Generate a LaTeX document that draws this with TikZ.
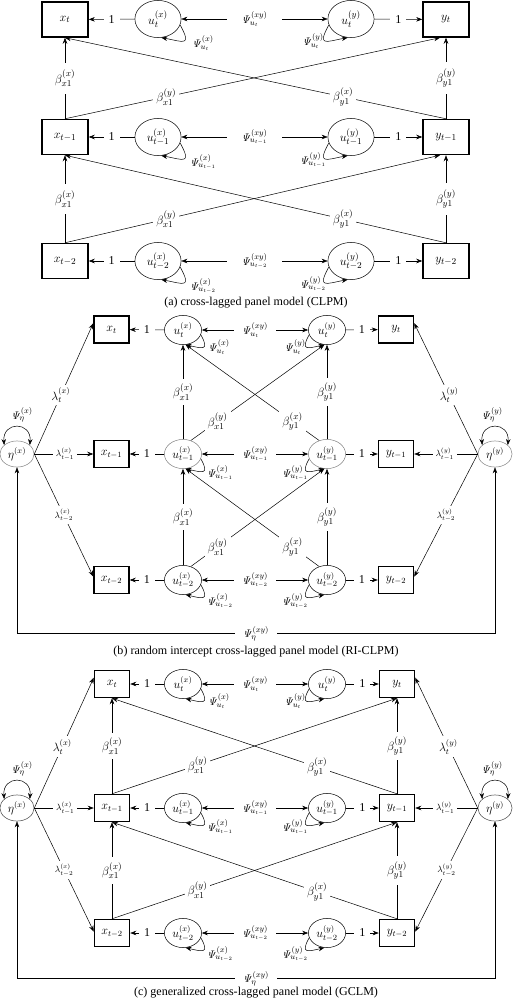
\documentclass[tikz,border=0pt]{standalone}
\usepackage[no-math]{fontspec}
\setmainfont{Liberation Serif}
\usetikzlibrary{shapes.geometric, arrows.meta, positioning, calc}
\newcommand{\Ps}{\mathit{\Psi}}

\begin{document}
\begin{tikzpicture}[x=0.035cm, y=-0.035cm, font=\fontsize{11}{13}\selectfont,
  >={Stealth[length=6pt,width=4.5pt]}, line width=0.5pt,
  boxa/.style={draw, line width=1.3pt, minimum width=46pt, minimum height=35pt, inner sep=0pt, font=\fontsize{13}{15}\selectfont},
  boxb/.style={draw, line width=1.3pt, minimum width=35pt, minimum height=27pt, inner sep=0pt, font=\fontsize{12}{14}\selectfont},
  ella/.style={draw, ellipse, minimum width=46pt, minimum height=37pt, inner sep=0pt, font=\fontsize{13}{15}\selectfont},
  ellb/.style={draw, ellipse, minimum width=37pt, minimum height=29pt, inner sep=0pt, font=\fontsize{12}{14}\selectfont},
  etan/.style={draw=gray, ellipse, minimum width=34pt, minimum height=26pt, inner sep=0pt, font=\fontsize{12}{14}\selectfont},
  lbl/.style={fill=white, inner sep=3pt},
  beta/.style={fill=white, inner sep=3pt, font=\fontsize{13}{15}\selectfont},
  lamt/.style={fill=white, inner sep=3pt, font=\fontsize{12}{14}\selectfont},
  lams/.style={fill=white, inner sep=3pt, font=\fontsize{9}{11}\selectfont},
  one/.style={fill=white, inner xsep=5pt, inner ysep=1pt, font=\fontsize{12}{14}\selectfont},
  capt/.style={font=\fontsize{12}{14}\selectfont}
]
  \useasboundingbox (0,0) rectangle (513,1000);

  % (a) CLPM
  \node[boxa] (axt) at (65,19.5) {$x_t$};
  \node[boxa] (axt1) at (65,137) {$x_{t-1}$};
  \node[boxa] (axt2) at (65,261) {$x_{t-2}$};
  \node[boxa] (ayt) at (446,19.5) {$y_t$};
  \node[boxa] (ayt1) at (446,137) {$y_{t-1}$};
  \node[boxa] (ayt2) at (446,261) {$y_{t-2}$};
  \node[ella] (aux) at (158,19) {$u^{(x)}_t$};
  \node[ella] (aux1) at (158,137) {$u^{(x)}_{t-1}$};
  \node[ella] (aux2) at (158,261) {$u^{(x)}_{t-2}$};
  \node[ella] (auy) at (351,19) {$u^{(y)}_t$};
  \node[ella] (auy1) at (351,137) {$u^{(y)}_{t-1}$};
  \node[ella] (auy2) at (351,261) {$u^{(y)}_{t-2}$};

  \draw[->] (aux) -- node[one]{1} (axt);
  \draw[->] (aux1) -- node[one]{1} (axt1);
  \draw[->] (aux2) -- node[one]{1} (axt2);
  \draw[->] (auy) -- node[one]{1} (ayt);
  \draw[->] (auy1) -- node[one]{1} (ayt1);
  \draw[->] (auy2) -- node[one]{1} (ayt2);
  \draw[<->] (aux) -- node[lbl, inner xsep=14pt]{$\Ps^{(xy)}_{u_t}$} (auy);
  \draw[<->] (aux1) -- node[lbl, inner xsep=14pt]{$\Ps^{(xy)}_{u_{t-1}}$} (auy1);
  \draw[<->] (aux2) -- node[lbl, inner xsep=14pt]{$\Ps^{(xy)}_{u_{t-2}}$} (auy2);

  \draw[->] (aux.-15) .. controls +(12,22) and +(22,4) .. (aux.-80);
  \draw[->] (aux1.-15) .. controls +(12,22) and +(22,4) .. (aux1.-80);
  \draw[->] (aux2.-15) .. controls +(12,22) and +(22,4) .. (aux2.-80);
  \draw[->] (auy.195) .. controls +(-12,22) and +(-22,4) .. (auy.-100);
  \draw[->] (auy1.195) .. controls +(-12,22) and +(-22,4) .. (auy1.-100);
  \draw[->] (auy2.195) .. controls +(-12,22) and +(-22,4) .. (auy2.-100);
  \node (apx) at ($(aux)+(45,24)$) {$\Ps^{(x)}_{u_t}$};
  \node (apx1) at ($(aux1)+(45,25)$) {$\Ps^{(x)}_{u_{t-1}}$};
  \node (apx2) at ($(aux2)+(45,25)$) {$\Ps^{(x)}_{u_{t-2}}$};
  \node (apy) at ($(auy)+(-38,22)$) {$\Ps^{(y)}_{u_t}$};
  \node (apy1) at ($(auy1)+(-38,23)$) {$\Ps^{(y)}_{u_{t-1}}$};
  \node (apy2) at ($(auy2)+(-38,23)$) {$\Ps^{(y)}_{u_{t-2}}$};

  \draw[->] (axt1) -- node[beta, inner ysep=7pt]{$\beta^{(x)}_{x1}$} (axt);
  \draw[->] (axt2) -- node[beta, inner ysep=7pt]{$\beta^{(x)}_{x1}$} (axt1);
  \draw[->] (ayt1) -- node[beta, inner ysep=7pt]{$\beta^{(y)}_{y1}$} (ayt);
  \draw[->] (ayt2) -- node[beta, inner ysep=7pt]{$\beta^{(y)}_{y1}$} (ayt1);
  \draw[->] (axt1.north) -- node[beta, pos=0.27]{$\beta^{(y)}_{x1}$} ($(ayt.south)+(-6,0)$);
  \draw[->] (axt2.north) -- node[beta, pos=0.27]{$\beta^{(y)}_{x1}$} ($(ayt1.south)+(-6,0)$);
  \draw[->] (ayt1.north) -- node[beta, pos=0.27]{$\beta^{(x)}_{y1}$} (axt.south);
  \draw[->] (ayt2.north) -- node[beta, pos=0.27]{$\beta^{(x)}_{y1}$} (axt1.south);

  \node[capt] (capa) at (256,303) {(a) cross-lagged panel model (CLPM)};

  % (b) RI-CLPM
  \node[boxb] (bxt) at (111.5,329.5) {$x_t$};
  \node[boxb] (bxt1) at (111.5,454) {$x_{t-1}$};
  \node[boxb] (bxt2) at (111.5,580) {$x_{t-2}$};
  \node[boxb] (byt) at (396,329.5) {$y_t$};
  \node[boxb] (byt1) at (396,454) {$y_{t-1}$};
  \node[boxb] (byt2) at (396,580) {$y_{t-2}$};
  \node[ellb] (bux) at (183,330) {$u^{(x)}_t$};
  \node[ellb, draw=gray] (bux1) at (183,454) {$u^{(x)}_{t-1}$};
  \node[ellb] (bux2) at (183,580) {$u^{(x)}_{t-2}$};
  \node[ellb] (buy) at (327,330) {$u^{(y)}_t$};
  \node[ellb, draw=gray] (buy1) at (327,454) {$u^{(y)}_{t-1}$};
  \node[ellb] (buy2) at (327,580) {$u^{(y)}_{t-2}$};
  \node[etan] (bex) at (17,454) {$\eta^{(x)}$};
  \node[etan] (bey) at (495,454) {$\eta^{(y)}$};

  \draw[->] (bux) -- node[one]{1} (bxt);
  \draw[->] (bux1) -- node[one]{1} (bxt1);
  \draw[->] (bux2) -- node[one]{1} (bxt2);
  \draw[->] (buy) -- node[one]{1} (byt);
  \draw[->] (buy1) -- node[one]{1} (byt1);
  \draw[->] (buy2) -- node[one]{1} (byt2);
  \draw[<->] (bux) -- node[lbl, inner xsep=8pt]{$\Ps^{(xy)}_{u_t}$} (buy);
  \draw[<->] (bux1) -- node[lbl, inner xsep=8pt]{$\Ps^{(xy)}_{u_{t-1}}$} (buy1);
  \draw[<->] (bux2) -- node[lbl, inner xsep=8pt]{$\Ps^{(xy)}_{u_{t-2}}$} (buy2);

  \draw[->] (bux.-15) .. controls +(9,16) and +(17,4) .. (bux.-80);
  \draw[->] (bux1.-15) .. controls +(9,16) and +(17,4) .. (bux1.-80);
  \draw[->] (bux2.-15) .. controls +(9,16) and +(17,4) .. (bux2.-80);
  \draw[->] (buy.195) .. controls +(-9,16) and +(-17,4) .. (buy.-100);
  \draw[->] (buy1.195) .. controls +(-9,16) and +(-17,4) .. (buy1.-100);
  \draw[->] (buy2.195) .. controls +(-9,16) and +(-17,4) .. (buy2.-100);
  \node (bpx) at ($(bux)+(36,17)$) {$\Ps^{(x)}_{u_t}$};
  \node (bpx1) at ($(bux1)+(37,19)$) {$\Ps^{(x)}_{u_{t-1}}$};
  \node (bpx2) at ($(bux2)+(37,21)$) {$\Ps^{(x)}_{u_{t-2}}$};
  \node (bpy) at ($(buy)+(-32,17)$) {$\Ps^{(y)}_{u_t}$};
  \node (bpy1) at ($(buy1)+(-32,19)$) {$\Ps^{(y)}_{u_{t-1}}$};
  \node (bpy2) at ($(buy2)+(-32,21)$) {$\Ps^{(y)}_{u_{t-2}}$};

  \draw[->] (bux1) -- node[beta, inner ysep=5pt]{$\beta^{(x)}_{x1}$} (bux);
  \draw[->] (bux2) -- node[beta, inner ysep=5pt]{$\beta^{(x)}_{x1}$} (bux1);
  \draw[->] (buy1) -- node[beta, inner ysep=5pt]{$\beta^{(y)}_{y1}$} (buy);
  \draw[->] (buy2) -- node[beta, inner ysep=5pt]{$\beta^{(y)}_{y1}$} (buy1);
  \draw[->] (bux1.60) -- node[beta, pos=0.2]{$\beta^{(y)}_{x1}$} (buy.-100);
  \draw[->] (bux2.60) -- node[beta, pos=0.2]{$\beta^{(y)}_{x1}$} (buy1.-100);
  \draw[->] (buy1.120) -- node[beta, pos=0.2]{$\beta^{(x)}_{y1}$} (bux.-80);
  \draw[->] (buy2.120) -- node[beta, pos=0.2]{$\beta^{(x)}_{y1}$} (bux1.-80);

  \draw[->] (bex.east) -- node[lamt, pos=0.45]{$\lambda^{(x)}_t$} ([yshift=0.22cm]bxt.west);
  \draw[->] (bex.east) -- node[lams, pos=0.52]{$\lambda^{(x)}_{t-1}$} (bxt1.west);
  \draw[->] (bex.east) -- node[lams, pos=0.5]{$\lambda^{(x)}_{t-2}$} ([yshift=0.12cm]bxt2.west);
  \draw[->] (bey.west) -- node[lamt, pos=0.45]{$\lambda^{(y)}_t$} ([yshift=0.22cm]byt.east);
  \draw[->] (bey.west) -- node[lams, pos=0.52]{$\lambda^{(y)}_{t-1}$} (byt1.east);
  \draw[->] (bey.west) -- node[lams, pos=0.5]{$\lambda^{(y)}_{t-2}$} ([yshift=0.12cm]byt2.east);

  \draw[<->] (bex.145) .. controls +(-2,-24) and +(2,-24) .. (bex.35);
  \draw[<->] (bey.145) .. controls +(-2,-24) and +(2,-24) .. (bey.35);
  \node (bpex) at ($(bex)+(5,-39)$) {$\Ps^{(x)}_{\eta}$};
  \node (bpey) at ($(bey)+(-3,-39)$) {$\Ps^{(y)}_{\eta}$};
  \draw[<->] (bex.south) -- ++(0,166) -| node[lbl, pos=0.25, inner xsep=8pt]{$\Ps^{(xy)}_{\eta}$} (bey.south);

  \node[capt] (capb) at (256,652) {(b) random intercept cross-lagged panel model (RI-CLPM)};

  % (c) GCLM
  \node[boxb] (cxt) at (112,684) {$x_t$};
  \node[boxb] (cxt1) at (112,808) {$x_{t-1}$};
  \node[boxb] (cxt2) at (112,933) {$x_{t-2}$};
  \node[boxb] (cyt) at (397,684) {$y_t$};
  \node[boxb] (cyt1) at (397,808) {$y_{t-1}$};
  \node[boxb] (cyt2) at (397,933) {$y_{t-2}$};
  \node[ellb] (cux) at (183,684) {$u^{(x)}_t$};
  \node[ellb] (cux1) at (183,808) {$u^{(x)}_{t-1}$};
  \node[ellb] (cux2) at (183,933) {$u^{(x)}_{t-2}$};
  \node[ellb] (cuy) at (327,684) {$u^{(y)}_t$};
  \node[ellb] (cuy1) at (327,808) {$u^{(y)}_{t-1}$};
  \node[ellb] (cuy2) at (327,933) {$u^{(y)}_{t-2}$};
  \node[etan, draw=darkgray] (cex) at (17,808) {$\eta^{(x)}$};
  \node[etan, draw=darkgray] (cey) at (495,808) {$\eta^{(y)}$};

  \draw[->] (cux) -- node[one]{1} (cxt);
  \draw[->] (cux1) -- node[one]{1} (cxt1);
  \draw[->] (cux2) -- node[one]{1} (cxt2);
  \draw[->] (cuy) -- node[one]{1} (cyt);
  \draw[->] (cuy1) -- node[one]{1} (cyt1);
  \draw[->] (cuy2) -- node[one]{1} (cyt2);
  \draw[<->] (cux) -- node[lbl, inner xsep=8pt]{$\Ps^{(xy)}_{u_t}$} (cuy);
  \draw[<->] (cux1) -- node[lbl, inner xsep=8pt]{$\Ps^{(xy)}_{u_{t-1}}$} (cuy1);
  \draw[<->] (cux2) -- node[lbl, inner xsep=8pt]{$\Ps^{(xy)}_{u_{t-2}}$} (cuy2);

  \draw[->] (cux.-15) .. controls +(9,16) and +(17,4) .. (cux.-80);
  \draw[->] (cux1.-15) .. controls +(9,16) and +(17,4) .. (cux1.-80);
  \draw[->] (cux2.-15) .. controls +(9,16) and +(17,4) .. (cux2.-80);
  \draw[->] (cuy.195) .. controls +(-9,16) and +(-17,4) .. (cuy.-100);
  \draw[->] (cuy1.195) .. controls +(-9,16) and +(-17,4) .. (cuy1.-100);
  \draw[->] (cuy2.195) .. controls +(-9,16) and +(-17,4) .. (cuy2.-100);
  \node (cpx) at ($(cux)+(36,17)$) {$\Ps^{(x)}_{u_t}$};
  \node (cpx1) at ($(cux1)+(37,19)$) {$\Ps^{(x)}_{u_{t-1}}$};
  \node (cpx2) at ($(cux2)+(37,21)$) {$\Ps^{(x)}_{u_{t-2}}$};
  \node (cpy) at ($(cuy)+(-32,17)$) {$\Ps^{(y)}_{u_t}$};
  \node (cpy1) at ($(cuy1)+(-32,19)$) {$\Ps^{(y)}_{u_{t-1}}$};
  \node (cpy2) at ($(cuy2)+(-32,21)$) {$\Ps^{(y)}_{u_{t-2}}$};

  \draw[->] (cxt1) -- node[beta, inner ysep=5pt]{$\beta^{(x)}_{x1}$} (cxt);
  \draw[->] (cxt2) -- node[beta, inner ysep=5pt]{$\beta^{(x)}_{x1}$} (cxt1);
  \draw[->] (cyt1) -- node[beta, inner ysep=5pt]{$\beta^{(y)}_{y1}$} (cyt);
  \draw[->] (cyt2) -- node[beta, inner ysep=5pt]{$\beta^{(y)}_{y1}$} (cyt1);
  \draw[->] (cxt1.north) -- node[beta, pos=0.3]{$\beta^{(y)}_{x1}$} (cyt.south);
  \draw[->] (cxt2.north) -- node[beta, pos=0.3]{$\beta^{(y)}_{x1}$} (cyt1.south);
  \draw[->] (cyt1.north) -- node[beta, pos=0.28]{$\beta^{(x)}_{y1}$} (cxt.south);
  \draw[->] (cyt2.north) -- node[beta, pos=0.28]{$\beta^{(x)}_{y1}$} (cxt1.south);

  \draw[->] (cex.east) -- node[lamt, pos=0.47]{$\lambda^{(x)}_t$} ([yshift=0.22cm]cxt.west);
  \draw[->] (cex.east) -- node[lams, pos=0.52]{$\lambda^{(x)}_{t-1}$} (cxt1.west);
  \draw[->] (cex.east) -- node[lams, pos=0.5]{$\lambda^{(x)}_{t-2}$} ([yshift=0.05cm]cxt2.west);
  \draw[->] (cey.west) -- node[lamt, pos=0.47]{$\lambda^{(y)}_t$} ([yshift=0.22cm]cyt.east);
  \draw[->] (cey.west) -- node[lams, pos=0.52]{$\lambda^{(y)}_{t-1}$} (cyt1.east);
  \draw[->] (cey.west) -- node[lams, pos=0.5]{$\lambda^{(y)}_{t-2}$} ([yshift=0.05cm]cyt2.east);

  \draw[<->] (cex.145) .. controls +(-2,-24) and +(2,-24) .. (cex.35);
  \draw[<->] (cey.145) .. controls +(-2,-24) and +(2,-24) .. (cey.35);
  \node (cpex) at ($(cex)+(5,-39)$) {$\Ps^{(x)}_{\eta}$};
  \node (cpey) at ($(cey)+(-3,-39)$) {$\Ps^{(y)}_{\eta}$};
  \draw[<->] (cex.south) -- ++(0,157) -| node[lbl, pos=0.25, inner xsep=8pt]{$\Ps^{(xy)}_{\eta}$} (cey.south);

  \node[capt] (capc) at (256,993) {(c) generalized cross-lagged panel model (GCLM)};
\end{tikzpicture}
\end{document}
